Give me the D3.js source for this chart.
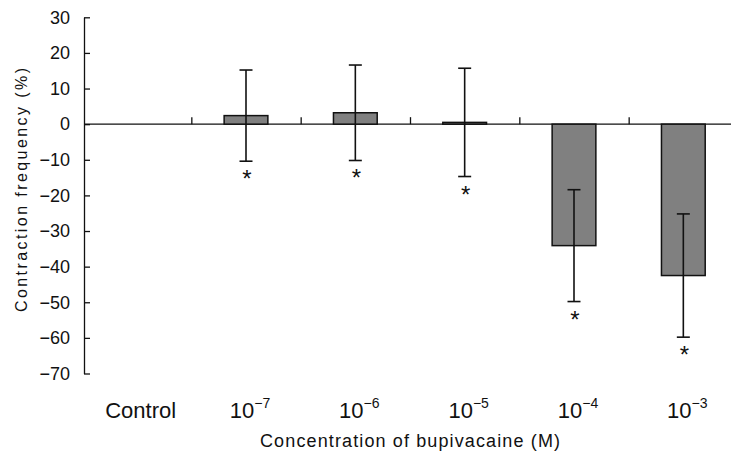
<!DOCTYPE html>
<html>
<head>
<meta charset="utf-8">
<script src="https://cdn.jsdelivr.net/npm/d3@7"></script>
<style>
  body { margin: 0; background: white; }
  text { font-family: "Liberation Sans", Arial, sans-serif; fill: #111; }
</style>
</head>
<body>
<div id="chart"></div>
<script>
// values
let categories = ['Control', '-7', '-6', '-5', '-4', '-3'];
let means = [null, 2.4, 3.2, 0.5, -34.1, -42.5];
let sds = [null, 12.8, 13.4, 15.2, 15.7, 17.3];
let marked = [false, true, true, true, true, true];
let yTicks = [30, 20, 10, 0, -10, -20, -30, -40, -50, -60, -70];

let width = 731;
let height = 452;
let axisX = 84;

let svg = d3
    .select('#chart')
    .append('svg')
    .attr('width', width)
    .attr('height', height);

let yScale = d3
    .scaleLinear()
    .domain([-70, 30])
    .range([373.5, 17.3]);

let xScale = d3
    .scaleBand()
    .domain(categories)
    .range([82, 738])
    .paddingInner(0.6)
    .paddingOuter(0.3);

// boundaries between categories, for the small upward ticks
let edgeScale = d3
    .scaleLinear()
    .domain([0, categories.length])
    .range([82, 738]);

let yAxis = d3.axisLeft(yScale)
    .tickValues(yTicks)
    .tickSizeInner(-6)
    .tickSizeOuter(0)
    .tickPadding(14);

let yG = svg
    .append('g')
    .attr('class', 'yAxis')
    .attr('transform', `translate(${axisX},0)`)
    .call(yAxis);
yG.selectAll('text').style('font-size', '18px').style('font-family', '"Liberation Sans", Arial, sans-serif').attr('fill', '#111');
yG.selectAll('line, path').attr('stroke', '#111').attr('stroke-width', 1.3);

let xAxis = d3.axisBottom(edgeScale)
    .tickValues([1, 2, 3, 4, 5])
    .tickSizeInner(-7)
    .tickSizeOuter(0)
    .tickFormat('');

let xG = svg
    .append('g')
    .attr('class', 'xAxis')
    .attr('transform', `translate(0,${yScale(0)})`)
    .call(xAxis);
xG.select('.domain').attr('d', `M${axisX},0H738`);
xG.selectAll('line, path').attr('stroke', '#111').attr('stroke-width', 1.3);

let data = categories.map((c, i) => ({cat: c, mean: means[i], sd: sds[i], mark: marked[i]}))
    .filter(d => d.mean !== null);

// bars
svg
    .selectAll('rect.bar')
    .data(data)
    .enter()
    .append('rect')
    .attr('class', 'bar')
    .attr('x', d => xScale(d.cat))
    .attr('width', xScale.bandwidth())
    .attr('y', d => yScale(Math.max(0, d.mean)))
    .attr('height', d => Math.abs(yScale(d.mean) - yScale(0)))
    .attr('fill', '#808080')
    .attr('stroke', '#111')
    .attr('stroke-width', 1.5);

// error bars
let cap = 6.5;
let errs = svg
    .selectAll('g.err')
    .data(data)
    .enter()
    .append('g')
    .attr('class', 'err')
    .attr('stroke', '#111')
    .attr('stroke-width', 1.6);

errs.append('line')
    .attr('x1', d => xScale(d.cat) + xScale.bandwidth() / 2)
    .attr('x2', d => xScale(d.cat) + xScale.bandwidth() / 2)
    .attr('y1', d => yScale(d.mean + d.sd))
    .attr('y2', d => yScale(d.mean - d.sd));
errs.append('line')
    .attr('x1', d => xScale(d.cat) + xScale.bandwidth() / 2 - cap)
    .attr('x2', d => xScale(d.cat) + xScale.bandwidth() / 2 + cap)
    .attr('y1', d => yScale(d.mean + d.sd))
    .attr('y2', d => yScale(d.mean + d.sd));
errs.append('line')
    .attr('x1', d => xScale(d.cat) + xScale.bandwidth() / 2 - cap)
    .attr('x2', d => xScale(d.cat) + xScale.bandwidth() / 2 + cap)
    .attr('y1', d => yScale(d.mean - d.sd))
    .attr('y2', d => yScale(d.mean - d.sd));

// significance stars
svg
    .selectAll('text.star')
    .data(data.filter(d => d.mark))
    .enter()
    .append('text')
    .attr('class', 'star')
    .attr('x', d => xScale(d.cat) + xScale.bandwidth() / 2 + 1)
    .attr('y', d => yScale(d.mean - d.sd) + 26)
    .attr('text-anchor', 'middle')
    .style('font-size', '24px')
    .text('*');

// category labels
let labels = svg
    .selectAll('text.cat')
    .data(categories)
    .enter()
    .append('text')
    .attr('class', 'cat')
    .attr('x', d => xScale(d) + xScale.bandwidth() / 2 + 4)
    .attr('y', 418)
    .attr('text-anchor', 'middle')
    .style('font-size', '22px');

labels.each(function (d) {
    let t = d3.select(this);
    if (d === 'Control') {
        t.text(d);
    } else {
        t.append('tspan').text('10');
        t.append('tspan')
            .attr('dy', -10)
            .style('font-size', '14px')
            .text('\u2212' + d.slice(1));
    }
});

// axis titles
svg
    .append('text')
    .attr('x', 410)
    .attr('y', 447)
    .attr('text-anchor', 'middle')
    .attr('textLength', 300)
    .attr('lengthAdjust', 'spacing')
    .style('font-size', '18px')
    .text('Concentration of bupivacaine (M)');

svg
    .append('text')
    .attr('transform', `translate(27,${190})rotate(-90)`)
    .attr('text-anchor', 'middle')
    .attr('textLength', 244)
    .attr('lengthAdjust', 'spacing')
    .style('font-size', '16px')
    .text('Contraction frequency (%)');
</script>
</body>
</html>
